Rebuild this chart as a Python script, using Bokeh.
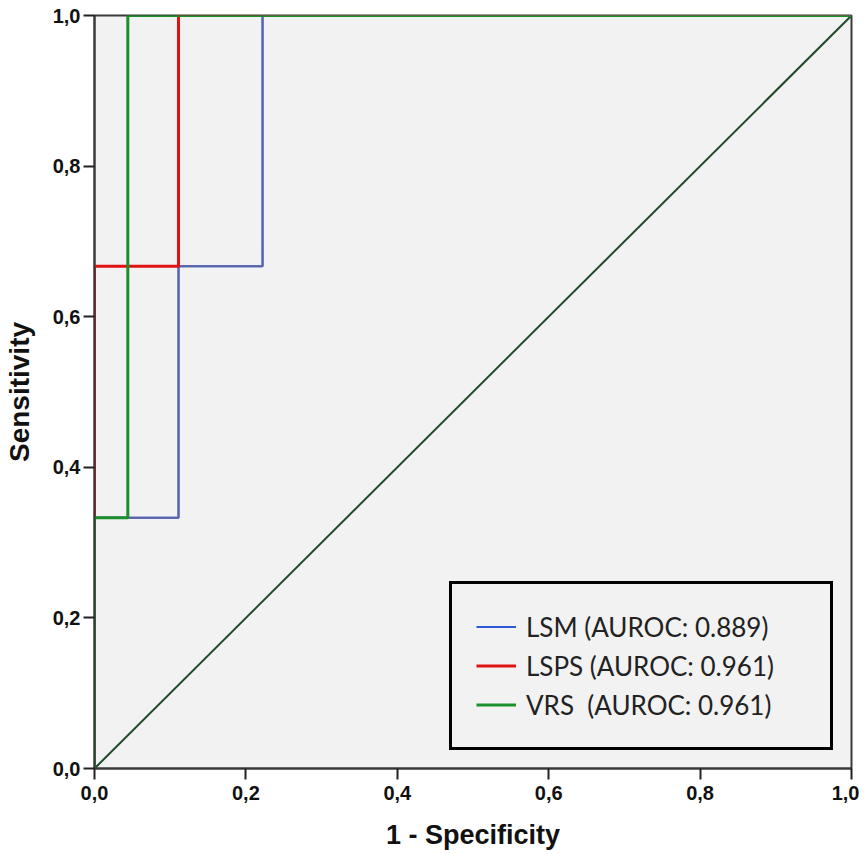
from bokeh.plotting import figure
from bokeh.models import FixedTicker, Legend, LegendItem
from bokeh.embed import file_html
from bokeh.resources import INLINE

# ROC step curves (1 - specificity, sensitivity)
lsm_fpr = [0.0, 0.0, 0.111, 0.111, 0.222, 0.222, 1.0]
lsm_tpr = [0.0, 0.333, 0.333, 0.667, 0.667, 1.0, 1.0]
lsps_fpr = [0.0, 0.0, 0.111, 0.111, 1.0]
lsps_tpr = [0.0, 0.667, 0.667, 1.0, 1.0]
vrs_fpr = [0.0, 0.0, 0.044, 0.044, 1.0]
vrs_tpr = [0.0, 0.333, 0.333, 1.0, 1.0]
ref_x = [0.0, 1.0]
ref_y = [0.0, 1.0]

labels = ["LSM (AUROC: 0.889)", "LSPS (AUROC: 0.961)", "VRS  (AUROC: 0.961)"]
ticks = [0.0, 0.2, 0.4, 0.6, 0.8, 1.0]
tick_labels = ["0,0", "0,2", "0,4", "0,6", "0,8", "1,0"]

p = figure(frame_width=757, frame_height=753,
           x_range=(0, 1), y_range=(0, 1),
           output_backend="svg", toolbar_location=None,
           min_border_left=87, min_border_right=8,
           min_border_top=15, min_border_bottom=84,
           background_fill_color="#f2f2f2", border_fill_color="white")

p.xgrid.visible = False
p.ygrid.visible = False
p.outline_line_color = "#3a3a3a"
p.outline_line_width = 2

for ax in (p.xaxis, p.yaxis):
    ax.ticker = FixedTicker(ticks=ticks)
    ax.major_label_overrides = {t: l for t, l in zip(ticks, tick_labels)}
    ax.minor_tick_line_color = None
    ax.major_tick_in = 0
    ax.major_tick_out = 11
    ax.major_tick_line_color = "#222222"
    ax.major_tick_line_width = 2
    ax.axis_line_color = "#3a3a3a"
    ax.axis_line_width = 2
    ax.major_label_text_font = "Liberation Sans"
    ax.major_label_text_font_style = "bold"
    ax.major_label_text_font_size = "20px"
    ax.major_label_text_color = "#111111"
    ax.axis_label_text_font = "Liberation Sans"
    ax.axis_label_text_font_style = "bold"
    ax.axis_label_text_color = "#111111"

p.xaxis.major_label_standoff = 6
p.yaxis.major_label_standoff = 3
p.xaxis.axis_label = "1 - Specificity"
p.yaxis.axis_label = "Sensitivity"
p.xaxis.axis_label_text_font_size = "27px"
p.yaxis.axis_label_text_font_size = "28px"
p.xaxis.axis_label_standoff = 17
p.yaxis.axis_label_standoff = 15

p.line(ref_x, ref_y, line_color="#1f4a2a", line_width=2)
# brighter copy of LSM underneath, used only for the legend swatch
r1 = p.line(lsm_fpr, lsm_tpr, line_color="#2d5bd8", line_width=2)
p.line(lsm_fpr, lsm_tpr, line_color="#5c64a8", line_width=2)
r2 = p.line(lsps_fpr, lsps_tpr, line_color="#e01212", line_width=3)
r3 = p.line(vrs_fpr, vrs_tpr, line_color="#1a8f2a", line_width=3)

legend = Legend(items=[LegendItem(label=labels[0], renderers=[r1]),
                       LegendItem(label=labels[1], renderers=[r2]),
                       LegendItem(label=labels[2], renderers=[r3])],
                location="bottom_right", margin=18, padding=24,
                spacing=2, glyph_width=40, glyph_height=37,
                label_height=37, label_width=280, label_standoff=10,
                label_text_font="Lato", label_text_font_size="26px",
                label_text_color="#222222",
                border_line_color="black", border_line_width=3,
                border_line_alpha=1.0,
                background_fill_color="#f2f2f2", background_fill_alpha=1.0)
p.add_layout(legend)

open("out.html", "w").write(file_html(p, INLINE))
